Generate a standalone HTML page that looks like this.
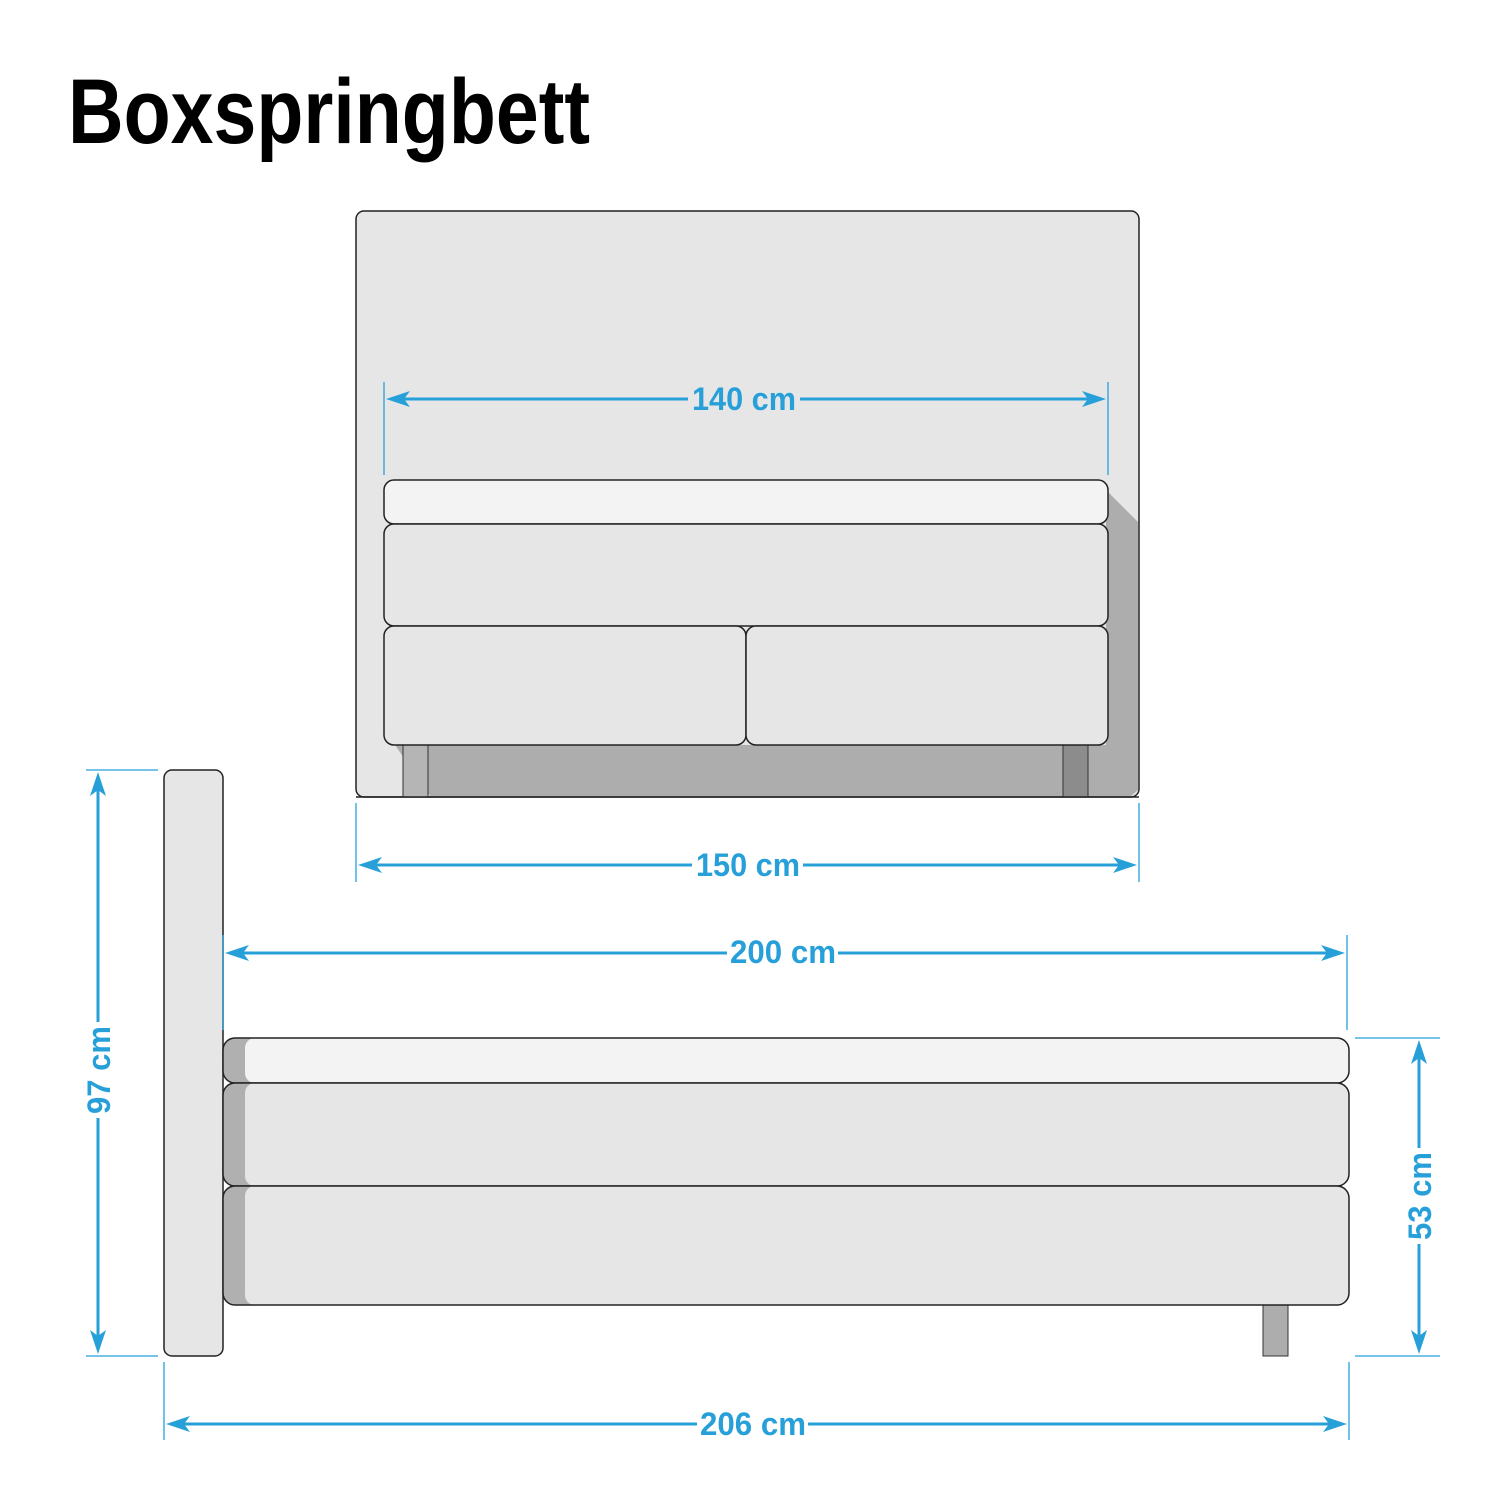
<!DOCTYPE html>
<html><head><style>body{margin:0;background:#fff}svg{display:block}</style></head>
<body>
<svg width="1500" height="1500" viewBox="0 0 1500 1500" xmlns="http://www.w3.org/2000/svg" font-family="Liberation Sans, sans-serif">
<text x="68" y="143" font-size="92" font-weight="bold" textLength="522" lengthAdjust="spacingAndGlyphs" fill="#000">Boxspringbett</text>

<!-- front view headboard -->
<rect x="356" y="211" width="783" height="586" rx="8" fill="#e6e6e6" stroke="#222" stroke-width="1.5"/>
<polygon points="1106,490 1138,522 1138,790 1131,796 430,796 395,745 1106,745" fill="#adadad"/>
<rect x="403" y="745" width="25" height="52" fill="#b5b5b5" stroke="#333" stroke-width="1"/>
<rect x="1063" y="745" width="25" height="52" fill="#8c8c8c" stroke="#333" stroke-width="1"/>
<line x1="356" y1="797" x2="1139" y2="797" stroke="#222" stroke-width="1.5"/>
<rect x="384" y="480" width="724" height="44" rx="10" fill="#f4f3f3" stroke="#222" stroke-width="1.5"/>
<rect x="384" y="524" width="724" height="102" rx="10" fill="#e6e6e6" stroke="#222" stroke-width="1.5"/>
<rect x="384" y="626" width="362" height="119" rx="10" fill="#e6e6e6" stroke="#222" stroke-width="1.5"/>
<rect x="746" y="626" width="362" height="119" rx="10" fill="#e6e6e6" stroke="#222" stroke-width="1.5"/>

<!-- side view -->
<rect x="164" y="770" width="59" height="586" rx="8" fill="#e6e6e6" stroke="#222" stroke-width="1.5"/>
<rect x="1263" y="1305" width="25" height="51" fill="#adadad" stroke="#333" stroke-width="1"/>
<rect x="223" y="1038" width="1126" height="45" rx="12" fill="#b0b0b0"/>
<rect x="245" y="1038" width="1104" height="45" rx="10" fill="#f4f3f3"/>
<rect x="223" y="1038" width="1126" height="45" rx="12" fill="none" stroke="#222" stroke-width="1.5"/>
<rect x="223" y="1083" width="1126" height="103" rx="12" fill="#b0b0b0"/>
<rect x="245" y="1083" width="1104" height="103" rx="10" fill="#e6e6e6"/>
<rect x="223" y="1083" width="1126" height="103" rx="12" fill="none" stroke="#222" stroke-width="1.5"/>
<rect x="223" y="1186" width="1126" height="119" rx="12" fill="#b0b0b0"/>
<rect x="245" y="1186" width="1104" height="119" rx="10" fill="#e6e6e6"/>
<rect x="223" y="1186" width="1126" height="119" rx="12" fill="none" stroke="#222" stroke-width="1.5"/>

<!-- dimension lines -->
<g stroke="#27a0da" stroke-width="1.3">
<line x1="384" y1="382" x2="384" y2="475"/><line x1="1108" y1="382" x2="1108" y2="475"/>
<line x1="356" y1="803" x2="356" y2="882"/><line x1="1139" y1="803" x2="1139" y2="882"/>
<line x1="223" y1="935" x2="223" y2="1030"/><line x1="1347" y1="935" x2="1347" y2="1030"/>
<line x1="164" y1="1362" x2="164" y2="1440"/><line x1="1349" y1="1362" x2="1349" y2="1440"/>
<line x1="86" y1="770" x2="158" y2="770"/><line x1="86" y1="1356" x2="158" y2="1356"/>
<line x1="1355" y1="1038" x2="1440" y2="1038"/><line x1="1355" y1="1356" x2="1440" y2="1356"/>
</g>
<g stroke="#27a0da" stroke-width="3" fill="none">
<line x1="400" y1="399" x2="688" y2="399"/><line x1="800" y1="399" x2="1092" y2="399"/>
<line x1="372" y1="865" x2="692" y2="865"/><line x1="803" y1="865" x2="1123" y2="865"/>
<line x1="239" y1="953" x2="727" y2="953"/><line x1="838" y1="953" x2="1331" y2="953"/>
<line x1="180" y1="1424" x2="697" y2="1424"/><line x1="808" y1="1424" x2="1333" y2="1424"/>
<line x1="98" y1="786" x2="98" y2="1022"/><line x1="98" y1="1118" x2="98" y2="1340"/>
<line x1="1419" y1="1054" x2="1419" y2="1148"/><line x1="1419" y1="1244" x2="1419" y2="1340"/>
</g>
<g fill="#27a0da">
<polygon points="386,399 410,391 404,399 410,407"/>
<polygon points="1106,399 1082,391 1088,399 1082,407"/>
<polygon points="358,865 382,857 376,865 382,873"/>
<polygon points="1137,865 1113,857 1119,865 1113,873"/>
<polygon points="225,953 249,945 243,953 249,961"/>
<polygon points="1345,953 1321,945 1327,953 1321,961"/>
<polygon points="166,1424 190,1416 184,1424 190,1432"/>
<polygon points="1347,1424 1323,1416 1329,1424 1323,1432"/>
<polygon points="98,772 90,796 98,790 106,796"/>
<polygon points="98,1354 90,1330 98,1336 106,1330"/>
<polygon points="1419,1040 1411,1064 1419,1058 1427,1064"/>
<polygon points="1419,1354 1411,1330 1419,1336 1427,1330"/>
</g>
<g fill="#27a0da" font-weight="bold" font-size="32" text-anchor="middle">
<text x="744" y="410" textLength="104" lengthAdjust="spacingAndGlyphs">140 cm</text>
<text x="748" y="876" textLength="104" lengthAdjust="spacingAndGlyphs">150 cm</text>
<text x="783" y="963" textLength="106" lengthAdjust="spacingAndGlyphs">200 cm</text>
<text x="753" y="1435" textLength="106" lengthAdjust="spacingAndGlyphs">206 cm</text>
<text transform="translate(110,1070) rotate(-90)" textLength="88" lengthAdjust="spacingAndGlyphs">97 cm</text>
<text transform="translate(1431,1196) rotate(-90)" textLength="88" lengthAdjust="spacingAndGlyphs">53 cm</text>
</g>
</svg>
</body></html>
